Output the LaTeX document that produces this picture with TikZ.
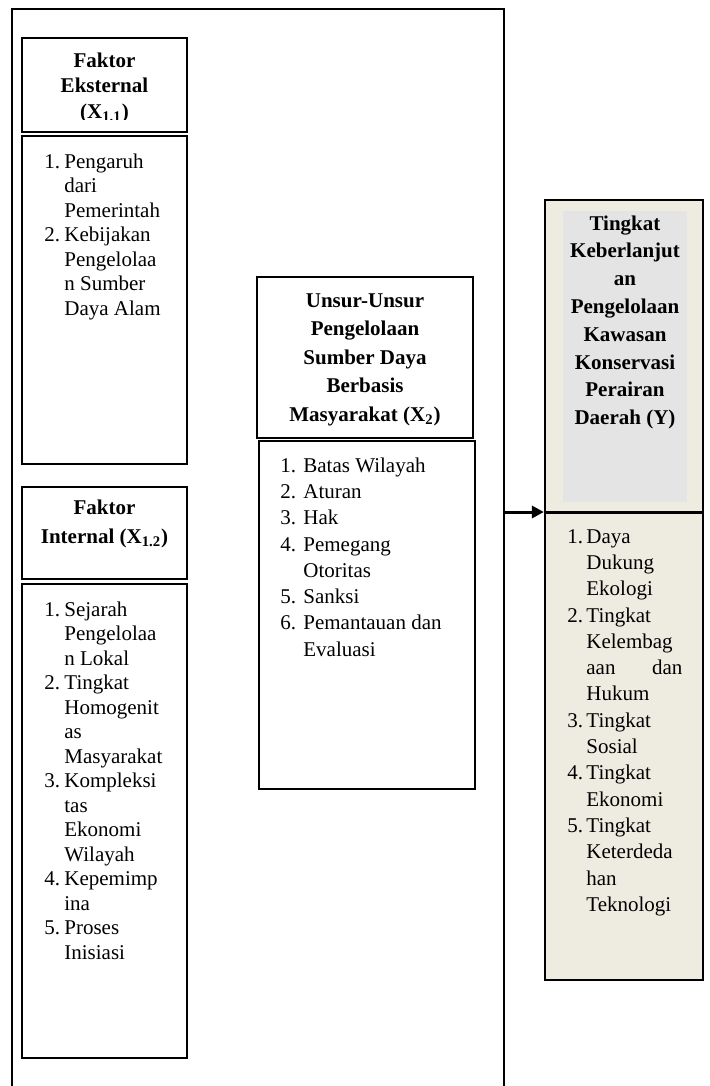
\documentclass[tikz,border=0pt]{standalone}
\usepackage{fontspec}
\setmainfont{Liberation Serif}
\usetikzlibrary{arrows.meta,positioning}
\definecolor{krem}{HTML}{EEECE1}
\definecolor{abu}{HTML}{E4E4E4}

\newcommand{\judul}[2]{{\fontsize{10.5}{#1}\selectfont\bfseries\begin{tabular}{@{}c@{}}#2\end{tabular}}}
\newcommand{\daftar}[3]{{\fontsize{10.5}{#1}\selectfont\begin{tabular}{@{}p{#2}@{}l@{}}#3\end{tabular}}}

\begin{document}
\begin{tikzpicture}[x=0.5pt,y=-0.5pt,
                kotak/.style={draw,line width=1.1pt,fill=white,inner sep=0pt},
                teks/.style={inner sep=0pt},
                panah/.style={line width=1.5pt,-{Triangle[length=6pt,width=6pt]}}]
                \useasboundingbox (0,0) rectangle (709,1086);
                \draw[line width=1pt] (12,1086) |- (504,9) -- (504,1086);

                \node[kotak,minimum width=82.5pt,minimum height=47pt] (eksJudul) at (104.5,85) {};
                \begin{scope}
                    \clip (22,38) rectangle (187,120);
                    \node[teks,anchor=north] (eksNama) at (104.5,49) {\judul{12.75pt}{Faktor\\ Eksternal\\ (X\textsubscript{1.1})}};
                \end{scope}
                \node[kotak,minimum width=82.5pt,minimum height=164pt] (eksDaftar) at (104.5,300) {};
                \node[teks,anchor=north west] at (44,150.6) {\daftar{12.25pt}{10pt}{
                    1. & Pengaruh\\ & dari\\ & Pemerintah\\
                    2. & Kebijakan\\ & Pengelolaa\\ & n Sumber\\ & Daya Alam}};

                \node[kotak,minimum width=82.5pt,minimum height=46pt] (intJudul) at (104.5,533) {};
                \node[teks,anchor=north] at (104.5,493.4) {\judul{14.5pt}{Faktor\\ Internal (X\textsubscript{1.2})}};
                \node[kotak,minimum width=82.5pt,minimum height=237pt] (intDaftar) at (104.5,821) {};
                \node[teks,anchor=north west] at (44,598.6) {\daftar{12.25pt}{10pt}{
                    1. & Sejarah\\ & Pengelolaa\\ & n Lokal\\
                    2. & Tingkat\\ & Homogenit\\ & as\\ & Masyarakat\\
                    3. & Kompleksi\\ & tas\\ & Ekonomi\\ & Wilayah\\
                    4. & Kepemimp\\ & ina\\
                    5. & Proses\\ & Inisiasi}};

                \node[kotak,minimum width=108pt,minimum height=80.5pt] (unsurJudul) at (365,357.5) {};
                \node[teks,anchor=north] at (365,286.8) {\judul{14.25pt}{Unsur-Unsur\\ Pengelolaan\\ Sumber Daya\\ Berbasis\\ Masyarakat (X\textsubscript{2})}};
                \node[kotak,minimum width=108pt,minimum height=174pt] (unsurDaftar) at (367,615) {};
                \node[teks,anchor=north west] at (280,453.3) {\daftar{13.15pt}{11.5pt}{
                    1. & Batas Wilayah\\ 2. & Aturan\\ 3. & Hak\\
                    4. & Pemegang\\ & Otoritas\\ 5. & Sanksi\\
                    6. & Pemantauan dan\\ & Evaluasi}};

                \node[kotak,fill=krem,minimum width=79pt,minimum height=390pt] (tingkat) at (624,590) {};
                \node[fill=abu,minimum width=62pt,minimum height=145.5pt] (tingkatLatar) at (625,356.5) {};
                \node[teks,anchor=north] at (625,210.3) {\judul{13.9pt}{Tingkat\\ Keberlanjut\\ an\\ Pengelolaan\\ Kawasan\\ Konservasi\\ Perairan\\ Daerah (Y)}};
                \node[teks,anchor=north west] at (567,524.3) {\daftar{13.15pt}{9.5pt}{
                    1. & Daya\\ & Dukung\\ & Ekologi\\
                    2. & Tingkat\\ & Kelembag\\ & \makebox[48pt][l]{aan\hfill dan}\\ & Hukum\\
                    3. & Tingkat\\ & Sosial\\
                    4. & Tingkat\\ & Ekonomi\\
                    5. & Tingkat\\ & Keterdeda\\ & han\\ & Teknologi}};

                \coordinate (pangkal) at (504,512);
                \draw[line width=1.5pt] (pangkal -| tingkat.west) -- (pangkal -| tingkat.east);
                \draw[panah] (pangkal) -- (pangkal -| tingkat.west);
            \end{tikzpicture}
\end{document}
